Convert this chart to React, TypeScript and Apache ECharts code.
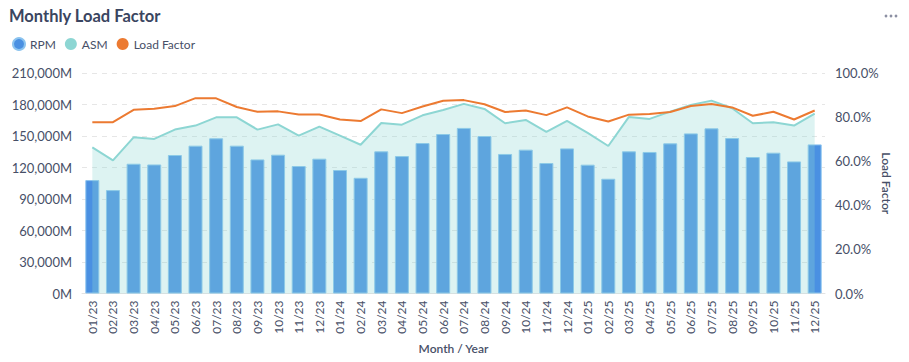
import React, { useEffect, useRef } from "react";
import * as echarts from "echarts";

const categories = [
  "01/23", "02/23", "03/23", "04/23", "05/23", "06/23", "07/23", "08/23", "09/23", "10/23", "11/23", "12/23",
  "01/24", "02/24", "03/24", "04/24", "05/24", "06/24", "07/24", "08/24", "09/24", "10/24", "11/24", "12/24",
  "01/25", "02/25", "03/25", "04/25", "05/25", "06/25", "07/25", "08/25", "09/25", "10/25", "11/25", "12/25",
];

const rpm = [
  108000, 98500, 123600, 122900, 131900, 140800, 147800, 140800, 127700, 132200, 121400, 128400,
  117600, 110200, 135400, 130900, 143300, 151900, 157700, 150000, 132900, 137000, 124300, 138200,
  122700, 109300, 135400, 134800, 143000, 152500, 157300, 148100, 130000, 134100, 125800, 142000,
];

const asm = [
  139200, 126800, 148700, 147200, 156100, 159900, 167800, 167800, 156100, 161100, 150300, 158900,
  150300, 141700, 162400, 160800, 169700, 174700, 180600, 175800, 162100, 165300, 153900, 164300,
  152900, 140500, 168200, 166300, 173200, 179600, 183700, 176400, 162100, 163000, 159900, 171300,
];

const loadFactor = [
  77.7, 77.7, 83.3, 83.8, 85.0, 88.6, 88.5, 84.6, 82.4, 82.6, 81.2, 81.2,
  78.9, 78.2, 83.5, 81.8, 84.8, 87.4, 87.7, 85.8, 82.3, 83.0, 80.9, 84.4,
  80.3, 78.0, 81.1, 81.4, 82.3, 85.0, 85.9, 84.4, 80.6, 82.4, 78.9, 83.0,
];

const FONT = "Lato, 'Noto Sans', sans-serif";
const LABEL = "#474f67";
const TITLE = "#3a4560";

export default function App() {
  const ref = useRef<HTMLDivElement>(null);

  useEffect(() => {
    document.body.style.margin = "0";
    if (!ref.current) return;
    const chart = echarts.init(ref.current, undefined, { renderer: "svg" });
    const nf = new Intl.NumberFormat("en-US");
    chart.setOption({
      animation: false,
      textStyle: { fontFamily: FONT },
      title: {
        text: "Monthly Load Factor",
        left: 4,
        top: 2,
        textStyle: { fontFamily: FONT, fontSize: 16.5, fontWeight: "bold", color: TITLE },
      },
      legend: {
        left: 7,
        top: 32,
        icon: "circle",
        itemWidth: 12,
        itemHeight: 12,
        itemGap: 9,
        textStyle: { fontFamily: FONT, fontSize: 12, color: LABEL },
        data: ["RPM", "ASM", "Load Factor"],
      },
      graphic: [
        { type: "circle", shape: { cx: 886, cy: 16, r: 1.4 }, style: { fill: "#8c90a3" } },
        { type: "circle", shape: { cx: 891, cy: 16, r: 1.4 }, style: { fill: "#8c90a3" } },
        { type: "circle", shape: { cx: 896, cy: 16, r: 1.4 }, style: { fill: "#8c90a3" } },
      ],
      grid: { left: 82, right: 84, top: 73, bottom: 68.5, containLabel: false },
      xAxis: {
        type: "category",
        data: categories,
        boundaryGap: true,
        name: "Month / Year",
        nameLocation: "middle",
        nameGap: 49,
        nameTextStyle: { fontFamily: FONT, fontSize: 12, fontWeight: 600, color: LABEL },
        axisLine: { show: true, lineStyle: { color: "#e3e3e3" } },
        axisTick: { show: false },
        axisLabel: { rotate: 90, interval: 0, margin: 7, fontFamily: FONT, fontSize: 12, color: LABEL },
      },
      yAxis: [
        {
          type: "value",
          min: 0,
          max: 210000,
          interval: 30000,
          axisLine: { show: false },
          axisTick: { show: false },
          axisLabel: {
            margin: 10,
            fontFamily: FONT,
            fontSize: 13,
            color: LABEL,
            formatter: (v: number) => nf.format(v) + "M",
          },
          splitLine: { show: true, lineStyle: { color: "#e6e6e6", type: [5, 5] } },
        },
        {
          type: "value",
          min: 0,
          max: 100,
          interval: 20,
          position: "right",
          name: "Load Factor",
          nameLocation: "middle",
          nameGap: 55,
          nameRotate: -90,
          nameMoveOverlap: false,
          nameTextStyle: { fontFamily: FONT, fontSize: 12, fontWeight: 600, color: LABEL },
          axisLine: { show: false },
          axisTick: { show: false },
          axisLabel: {
            margin: 10,
            fontFamily: FONT,
            fontSize: 13,
            color: LABEL,
            formatter: (v: number) => v.toFixed(1) + "%",
          },
          splitLine: { show: false },
        },
      ],
      series: [
        {
          name: "RPM",
          type: "bar",
          data: rpm,
          barWidth: 14,
          itemStyle: { color: "#4a90e2", borderColor: "#8cc4ef", borderWidth: 1 },
          z: 1,
        },
        {
          name: "ASM",
          type: "line",
          data: asm,
          symbol: "none",
          showSymbol: false,
          lineStyle: { color: "#8dd6d3", width: 2 },
          itemStyle: { color: "#8dd6d3" },
          areaStyle: { color: "#8dd6d3", opacity: 0.3 },
          z: 2,
        },
        {
          name: "Load Factor",
          type: "line",
          yAxisIndex: 1,
          data: loadFactor,
          symbol: "none",
          showSymbol: false,
          lineStyle: { color: "#ec7a31", width: 2 },
          itemStyle: { color: "#ec7a31" },
          z: 3,
        },
      ],
    });
    return () => chart.dispose();
  }, []);

  return <div ref={ref} style={{ width: 909, height: 362 }} />;
}
